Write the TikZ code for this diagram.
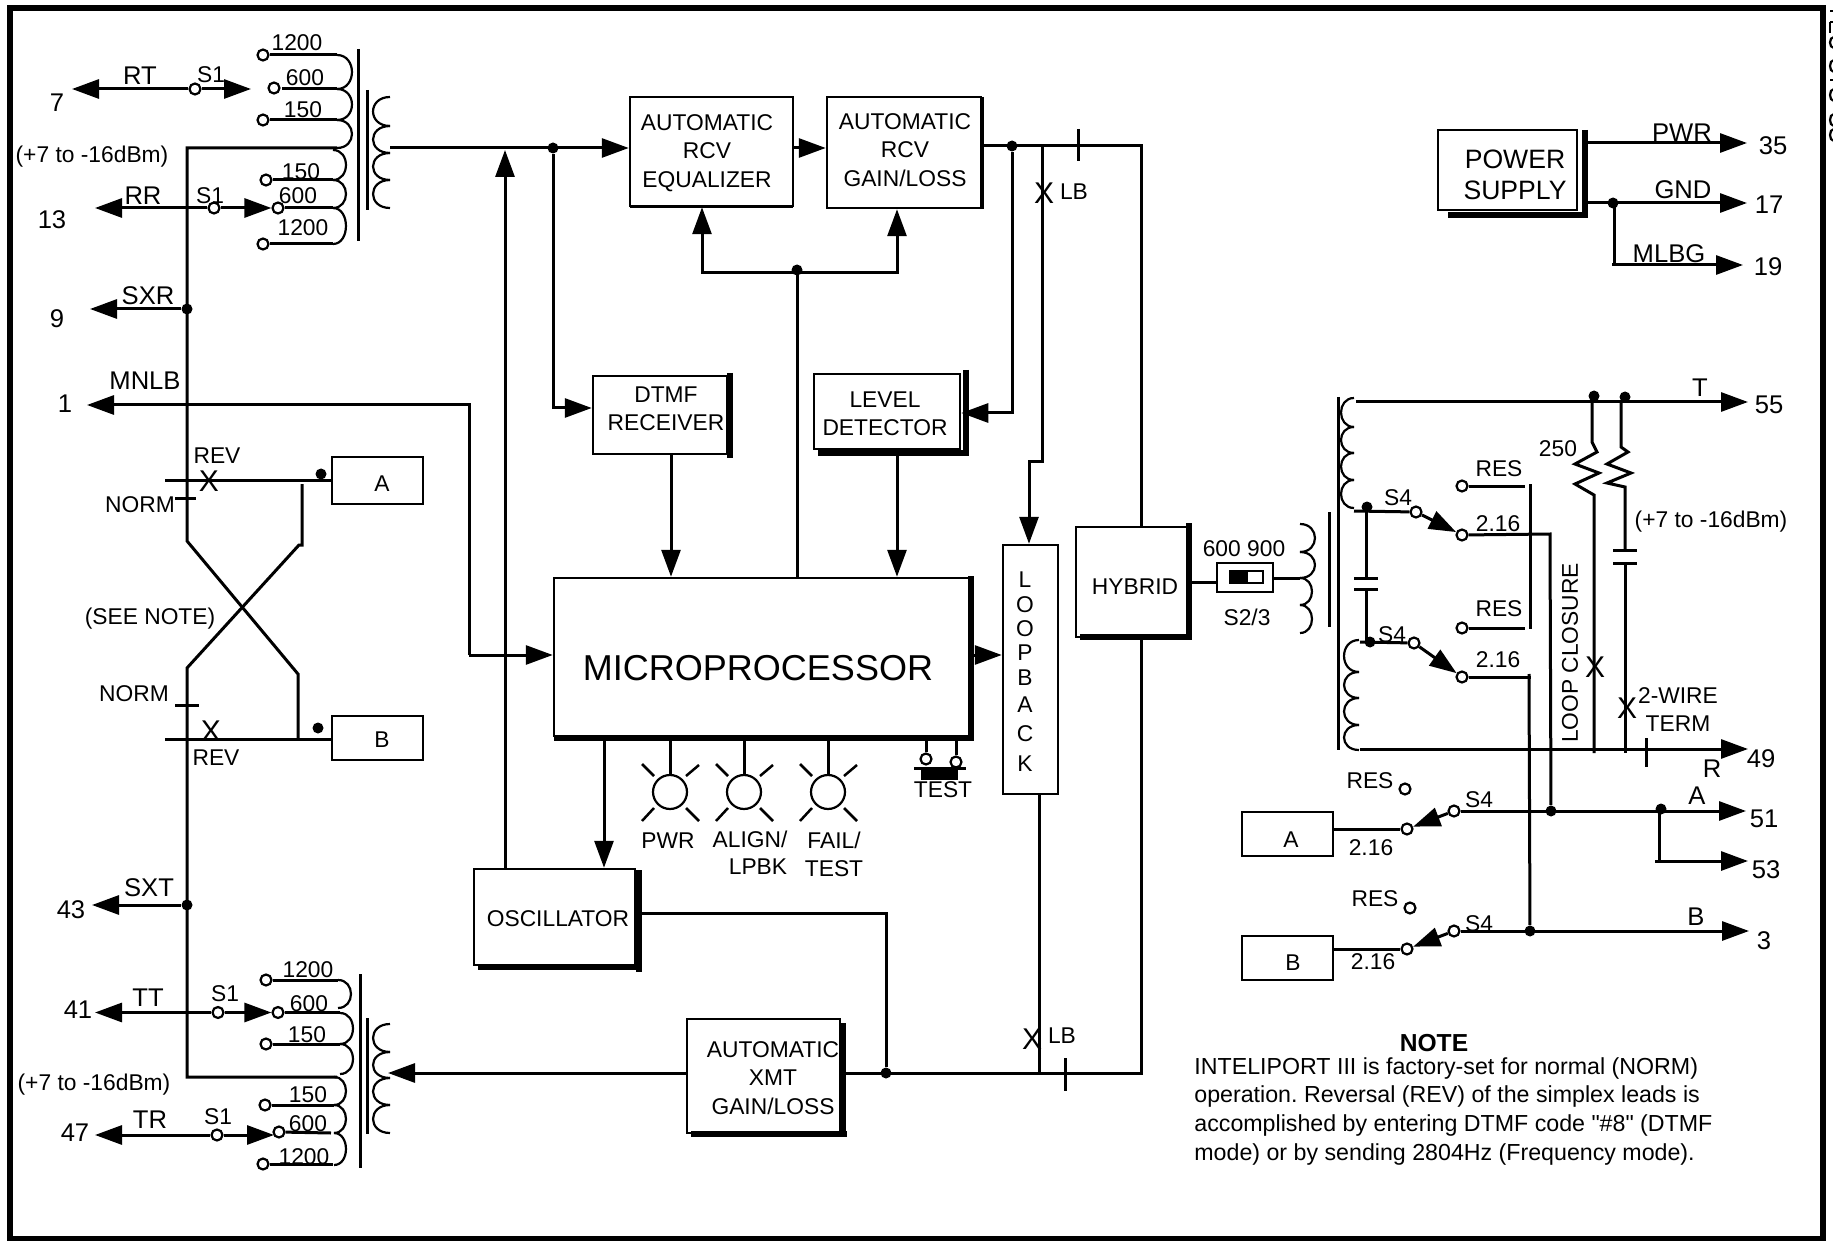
\documentclass[tikz,border=0pt]{standalone}
\usepackage{fontspec}
\setmainfont{Liberation Sans}
\newfontfamily\notefont{Liberation Sans}
\usetikzlibrary{arrows.meta,positioning,calc}
\frenchspacing

\tikzset{
    sig/.style={line width=1.5pt},
    sigarr/.style={sig,-{Triangle[length=13.5pt,width=9.5pt]}},
    corebar/.style={line width=1.5pt},
    heavybar/.style={line width=3pt},
    blk/.style={draw,line width=1.25pt,inner sep=0pt,fill=white},
    lab/.style={inner sep=0pt,yshift=-0.5pt,font=\fontsize{11.4}{14.2}\selectfont,align=center},
    biglab/.style={inner sep=0pt,yshift=-0.5pt,font=\fontsize{12.8}{14.5}\selectfont,align=center},
    term/.style={circle,draw,line width=1.1pt,fill=white,inner sep=0pt,minimum size=5.5pt},
    jdot/.style={circle,fill=black,inner sep=0pt,minimum size=5.5pt},
    led/.style={circle,draw,line width=1.1pt,inner sep=0pt,minimum size=17pt}
}
\newcommand{\coil}[3]{\foreach \ya/\yb in {#3} \draw[line width=1.1pt] (#1,\ya) .. controls (#1+#2*1.33,\ya) and (#1+#2*1.33,\yb) .. (#1,\yb);}

\begin{document}
\begin{tikzpicture}[x=0.5pt,y=-0.5pt]
    \useasboundingbox (0,0) rectangle (1833,1241);

    % Frame
    \draw[line width=3pt] (10,8) rectangle (1823,1239);
    % Clipped margin marks
    \coil{1834}{-4}{37/48,60/72,89/101,114/126,129/141}
    \draw[line width=1pt] (1830,11) -- (1833,11) (1830,22) -- (1830,33) (1830,22) -- (1833,22) (1830,80) -- (1833,80);

    % Blocks
    \foreach \n/\xa/\ya/\xb/\yb in {rcveq/630/97/793/206, rcvgain/827/97/981/208, dtmf/593/376/727/454,
        level/814/374/960/449, micro/554/578/969/736, osc/474/869/635/965, xmtgain/687/1019/840/1133,
        loopback/1003/545/1058/794, hybrid/1076/527/1187/637, power/1438/130/1577/210,
        boxAl/332/457/423/504, boxBl/332/716/423/760, boxAr/1242/812/1333/856, boxBr/1242/936/1333/980,
        sws/1217/563/1273/592}
        \node[blk,minimum width=(\xb-\xa)*0.5pt,minimum height=(\yb-\ya)*0.5pt] (\n) at ({(\xa+\xb)/2},{(\ya+\yb)/2}) {};

    % Heavy edges of the blocks
    \draw[line width=1pt] (982.5,97) -- (982.5,209);
    \draw[line width=1.5pt] (630,206.5) -- (793,206.5);
    \draw[heavybar] (730,373) -- (730,458);
    \draw[heavybar] (966,370) -- (966,456) (818,453) -- (969,453);
    \draw[heavybar] (639,870) -- (639,972) (478,967) -- (642,967);
    \draw[heavybar] (843,1023) -- (843,1137) (691,1134) -- (847,1134);
    \draw[heavybar] (971,576) -- (971,741) (554,738) -- (974,738);
    \draw[heavybar] (1189,523) -- (1189,640) (1080,637) -- (1192,637);
    \draw[heavybar] (1585,130) -- (1585,217) (1448,215) -- (1588,215);

    % Block texts
    \node[lab] (txteq) at (707,152) {AUTOMATIC\\RCV\\EQUALIZER};
    \node[lab] (txtgain) at (905,149) {AUTOMATIC\\RCV\\GAIN/LOSS};
    \node[lab] (txtdtmf) at (666,408) {DTMF\\RECEIVER};
    \node[lab] (txtlevel) at (885,413) {LEVEL\\DETECTOR};
    \node[inner sep=0pt,font=\fontsize{18}{20}\selectfont] (txtmicro) at (758,668) {MICROPROCESSOR};
    \node[lab] (txtosc) at (558,918) {OSCILLATOR};
    \node[lab] (txtxmt) at (773,1077) {AUTOMATIC\\XMT\\GAIN/LOSS};
    \node[lab] (txthyb) at (1135,586) {HYBRID};
    \node[inner sep=0pt,font=\fontsize{13.3}{15.5}\selectfont,align=center] (txtpower) at (1515,175) {POWER\\SUPPLY};
    \foreach \n/\y/\t in {lbL/579/L, lbOa/604/O, lbOb/628/O, lbP/652/P, lbB/677/B, lbA/704/A, lbC/733/C, lbK/763/K}
        \node[lab] (\n) at (1025,\y) {\t};

    % Open terminals
    \foreach \n/\x/\y in {tRT/195/89, tRR/214/208, tTT/218/1012.5, tTR/217/1135,
        ta1/263/55, ta2/274/88, ta3/263/120, tb1/266/180, tb2/278/208, tb3/263/244,
        tc1/266/980, tc2/278/1012.5, tc3/266/1044, td1/265/1105, td2/279/1132, td3/263/1164,
        tTa/926/759, tTb/956/762,
        swA/1416/512, cA/1462/535, resA/1462/486, swB/1414/643, cB/1462/677, resB/1462/628,
        swC/1454/811, cC/1407/829, resC/1405/789, swD/1454/931, cD/1407/949, resD/1410/908}
        \node[term] (\n) at (\x,\y) {};

    % Junctions
    \foreach \n/\x/\y in {jSXR/187/309, jSXT/187/905, jIn/553/148, jOut/1012/146, jCtl/797/270, jXmt/886/1073,
        jNa/321/474, jNb/318/728, jGnd/1613/203, jTa/1594/396, jTb/1625/397, jSa/1367/507, jSb/1370/642,
        jA/1551/811, jAb/1661/809, jB/1530/931}
        \node[jdot] (\n) at (\x,\y) {};

    % Free ends and corners
    \foreach \n/\x/\y in {tipRT/72/89, tipRTr/251/89, tipRR/95/208, tipSXR/90/309, tipMN/87/405, tipSXT/92/905,
        tipTT/95/1012.5, tipTR/95/1135, tipTRr/274/1135, tipIn/388/1073,
        tapTop/337/148, tapBot/337/1077, mnA/469/405, mnB/469/655, coilO/390/148, oscUp/505/150, dtmfIn/553/408,
        yIn/0/148, yOut/0/146, yMid/0/655, yBot/0/1073, ctlL/702/273, ctlM/797/273, ctlR/897/273, dnD/671/0, dnL/897/0,
        lvlIn/1012/413, lbUp/1042/146, lbBend/1042/462, lbIn/1029/462, outR/1141/146, botR/1141/1073, lbDn/1039/1073,
        oscR/886/913, oscD/604/0, secM/1300/578,
        tipPWR/1747/143, tipGND/1747/203, tipMLBG/1743/265, mlbgA/1614/203, mlbgB/1614/265,
        tipT/1748/402, tipR/1748/749, coilT/1356/402, coilR/1360/749,
        tipA/1746/811, tipAb/1748/861, abA/1659/811, abB/1659/861, tipB/1749/931,
        vA/1550/534, vB/1531/677}
        \coordinate (\n) at (\x,\y);

    % Left transformers
    \coil{337}{15}{55/89,89/120,120/148}
    \coil{333}{13}{150/180,180/208,208/244}
    \coil{390}{-17}{97/126,126/153,153/180,180/208}
    \coil{338}{13}{980/1008}
    \coil{340}{13}{1013/1044,1044/1074}
    \coil{334}{12}{1077/1105,1105/1133,1133/1165}
    \coil{390}{-17}{1024/1052,1052/1078,1078/1105,1105/1133}
    \draw[corebar] (358,49) -- (358,241) (367,90) -- (367,210);
    \draw[corebar] (360,974) -- (360,1168) (367,1018) -- (367,1134);
    \draw[sig] (ta1) -- (337,55);
    \draw[sig] (282,89) -- (337,89);
    \draw[sig] (ta3) -- (337,120);
    \draw[sig] (tb1) -- (333,180);
    \draw[sig] (tb2) -- (333,208);
    \draw[sig] (tb3) -- (333,244);
    \draw[sig] (tc1) -- (338,980);
    \draw[sig] (tc2) -- (340,1012.5);
    \draw[sig] (tc3) -- (340,1044);
    \draw[sig] (td1) -- (334,1105);
    \draw[sig] (td2) -- (331,1133);
    \draw[sig] (td3) -- (333,1164);

    % Left leads
    \draw[sigarr] (tRT) -- (tipRT);
    \draw[sigarr] (tRT) -- (tipRTr);
    \draw[sigarr] (tRR) -- (tipRR);
    \draw[sigarr] (tRR) -- (tb2);
    \draw[sigarr] (tTT) -- (tipTT);
    \draw[sigarr] (tTT) -- (tc2);
    \draw[sigarr] (tTR) -- (tipTR);
    \draw[sigarr] (tTR) -- (tipTRr);
    \draw[sigarr] (jSXR) -- (tipSXR);
    \draw[sigarr] (jSXT) -- (tipSXT);
    \draw[sigarr] (mnB) -- (mnA) -- (tipMN);
    \draw[sigarr] (mnB) -- (mnB -| micro.west);

    % Simplex crossover
    \draw[sig] (tapTop) -- (187,148) -- (187,541) -- (298,674) -- (298,739);
    \draw[sig] (302,484) -- (302,545) -- (299,545) -- (187,668) -- (187,1077) -- (tapBot);
    \draw[sig] (165,480) -- (boxAl.west |- 0,480);
    \draw[sig] (165,739) -- (boxBl.west |- 0,739);
    \draw[sig] (175,498) -- (196,498);
    \draw[sig] (175,705) -- (199,705);

    % Receive path
    \draw[sigarr] (coilO) -- (rcveq.west |- yIn);
    \draw[sigarr] (rcveq.east |- yIn) -- (rcvgain.west |- yIn);
    \draw[sigarr] (jIn) -- (dtmfIn) -- (dtmfIn -| dtmf.west);
    \draw[sigarr] (oscUp |- osc.north) -- (oscUp);
    \draw[sig] (rcvgain.east |- yOut) -- (outR) -- (outR |- hybrid.north);
    \draw[sig] (1078,129) -- (1078,161);
    \draw[sigarr] (jOut) -- (lvlIn) -- (lvlIn -| level.east);
    \draw[sigarr] (lbUp) -- (lbBend) -- (lbIn) -- (lbIn |- loopback.north);

    % Control and detector lines
    \draw[sig] (ctlM |- micro.north) -- (ctlM);
    \draw[sigarr] (ctlM) -- (ctlL) -- (ctlL |- rcveq.south);
    \draw[sigarr] (ctlM) -- (ctlR) -- (ctlR |- rcvgain.south);
    \draw[sigarr] (dnD |- dtmf.south) -- (dnD |- micro.north);
    \draw[sigarr] (dnL |- level.south) -- (dnL |- micro.north);
    \draw[sigarr] (micro.east |- yMid) -- (loopback.west |- yMid);
    \draw[sigarr] (oscD |- micro.south) -- (oscD |- osc.north);

    % Transmit path
    \draw[sig] (osc.east |- oscR) -- (oscR) -- (jXmt);
    \draw[sigarr] (xmtgain.west |- yBot) -- (tipIn);
    \draw[sig] (xmtgain.east |- yBot) -- (botR) -- (botR |- hybrid.south);
    \draw[sig] (lbDn |- loopback.south) -- (lbDn);
    \draw[sig] (1065,1058) -- (1065,1091);

    % Indicators and test switch
    \foreach \n/\x in {ledP/670, ledA/744, ledF/828} {
        \node[led] (\n) at (\x,792) {};
        \draw[sig] (\n) -- (\n |- micro.south);
        \draw[line width=1.25pt] (\x-16,776) -- (\x-28,764) (\x+16,776) -- (\x+29,765) (\x-16,808) -- (\x-28,821) (\x+16,808) -- (\x+29,821);
    }
    \draw[sig] (tTa) -- (tTa |- micro.south);
    \draw[sig] (tTb) -- (tTb |- micro.south);
    \draw[sig] (914,768) -- (966,768);
    \fill (921,768) rectangle (958,780);

    % Hybrid and line transformer
    \draw[sig] (hybrid.east) -- (hybrid.east -| sws.west);
    \draw[sig] (sws.east |- secM) -- (secM);
    \draw[line width=1pt] (1230,571) rectangle (1263,583);
    \fill (1230,571) rectangle (1248,583);
    \coil{1300}{15}{524/552,552/578}
    \coil{1300}{12}{578/605,605/633}
    \draw[corebar] (1329,512) -- (1329,627) (1338,397) -- (1338,750);
    \coil{1354}{-13}{398/427,427/453,453/480,480/508}
    \coil{1359}{-15}{640/672,672/698,698/725,725/750}

    % Tip and ring with loop closure
    \draw[sigarr] (coilT) -- (tipT);
    \draw[sigarr] (coilR) -- (tipR);
    \draw[sig] (1646,738) -- (1646,767);
    \draw[sig] (1592,402) -- (1592,442) -- ++(5,10) -- ++(-22,12) -- ++(24,9) -- ++(-24,11) -- ++(19,11) -- (1594,753);
    \draw[sig] (1621,402) -- (1621,447) -- ++(7,5) -- ++(-21,12) -- ++(24,9) -- ++(-24,10) -- ++(18,4) -- (1625,550);
    \draw[sig] (1613,550) -- (1637,550) (1613,563) -- (1637,563);
    \draw[sig] (1625,563) -- (1625,753);

    % S4 straps
    \draw[sig] (1354,511) -- (swA);
    \draw[sigarr] (swA) -- (cA);
    \draw[sig] (cA) -- (vA) -- (jA);
    \draw[sig] (resA) -- (1525,486);
    \draw[sig] (resB) -- (1525,628);
    \draw[sig] (1530,484) -- (1530,629);
    \draw[sig] (1366,511) -- (1366,578) (1366,589) -- (1366,642);
    \draw[sig] (1354,578) -- (1378,578) (1354,589) -- (1378,589);
    \draw[sig] (1360,642) -- (swB);
    \draw[sigarr] (swB) -- (cB);
    \draw[sig] (cB) -- (vB);
    \draw[sig] (1529,674) -- (jB);

    % A and B leads
    \draw[sig] (boxAr.east |- cC) -- (cC);
    \draw[sigarr] (swC) -- (cC);
    \draw[sigarr] (swC) -- (tipA);
    \draw[sig] (abA) -- (abB);
    \draw[sigarr] (1655,861) -- (tipAb);
    \draw[sig] (boxBr.east |- cD) -- (cD);
    \draw[sigarr] (swD) -- (cD);
    \draw[sigarr] (swD) -- (tipB);

    % Power supply leads
    \draw[sigarr] (power.east |- tipPWR) ++(8,0) -- (tipPWR);
    \draw[sigarr] (power.east |- tipGND) ++(8,0) -- (tipGND);
    \draw[sig] (mlbgA) -- (mlbgB);
    \draw[sigarr] (1612,265) -- (tipMLBG);

    % Labels
    \foreach \n/\x/\y/\t in {lRT/140/75/RT, lRR/143/195/RR, lSXR/148/295/SXR, lMNLB/145/380/MNLB, lSXT/149/887/SXT, lTT/148/997/TT, lTR/150/1119/TR,
        lT/1700/387/T, lRg/1712/768/R, lAg/1697/795/A, lBg/1696/916/B, lPWR/1682/132/PWR, lGND/1683/189/GND, lMLBG/1669/253/MLBG,
        p7/57/102/7, p13/52/219/13, p9/57/318/9, p1/65/403/1, p43/71/909/43, p41/78/1009/41, p47/75/1132/47,
        p35/1773/145/35, p17/1769/204/17, p19/1768/266/19, p55/1769/404/55, p49/1761/758/49, p51/1764/818/51, p53/1766/869/53, p3/1764/940/3}
        \node[biglab] (\n) at (\x,\y) {\t};
    \foreach \n/\x/\y/\t in {n12a/297/42/1200, n6a/305/77/600, n15a/303/109/150, n15b/301/171/150, n6b/298/195/600, n12b/303/227/1200,
        n12c/308/969/1200, n6c/309/1003/600, n15c/307/1034/150, n15d/308/1094/150, n6d/308/1123/600, n12d/304/1156/1200,
        lvA/92/156/{(+7 to -16dBm)}, lvB/94/1084/{(+7 to -16dBm)}, lvC/1711/521/{(+7 to -16dBm)},
        lrA/217/455/REV, lnA/140/504/NORM, lnB/134/693/NORM, lrB/216/757/REV, lSee/150/618/{(SEE NOTE)},
        lA1/382/483/A, lB1/382/739/B, lA2/1291/839/A, lB2/1293/962/B,
        lLB/1074/191/LB, lLBb/1062/1035/LB,
        lPw/668/840/PWR, lAl/750/838/{ALIGN/}, lLp/758/866/LPBK, lFa/834/839/{FAIL/}, lTs/834/868/TEST, lTb/943/789/TEST,
        l600/1244/548/600 900, lS23/1247/616/{S2/3},
        l250/1558/448/250, lWire/1678/695/2-WIRE, lTerm/1678/723/TERM,
        resa/1499/468/RES, resb/1499/608/RES, resc/1370/780/RES, resd/1375/898/RES,
        v216a/1498/523/2.16, v216b/1498/659/2.16, v216c/1371/847/2.16, v216d/1373/961/2.16}
        \node[lab] (\n) at (\x,\y) {\t};
    \foreach \n/\x/\y in {sa/211/74, sb/210/195, sc/225/993, sd/218/1116}
        \node[lab] (\n) at (\x,\y) {S1};
    \foreach \n/\x/\y in {se/1398/497, sf/1392/634, sg/1479/799, sh/1479/923}
        \node[lab] (\n) at (\x,\y) {S4};
    \node[lab,rotate=90] (lLoop) at (1570,652) {LOOP CLOSURE};

    % Link marks
    \foreach \n/\x/\y in {xa/209/481, xb/211/731, xc/1044/193, xd/1032/1039, xe/1595/667, xf/1627/708}
        \node[inner sep=0pt,font=\fontsize{15}{15}\selectfont] (\n) at (\x,\y) {X};

    % Note
    \node[inner sep=0pt,font=\bfseries\fontsize{12.3}{14}\selectfont] (noteHead) at (1434,1043) {NOTE};
    \node[inner sep=0pt,anchor=north west,align=left,font=\notefont\fontsize{11.6}{14.35}\selectfont] (noteBody) at (1194,1057)
        {INTELIPORT III is factory-set for normal (NORM)\\
         operation. Reversal (REV) of the simplex leads is\\
         accomplished by entering DTMF code "\#8" (DTMF\\
         mode) or by sending 2804Hz (Frequency mode).};
\end{tikzpicture}
\end{document}
